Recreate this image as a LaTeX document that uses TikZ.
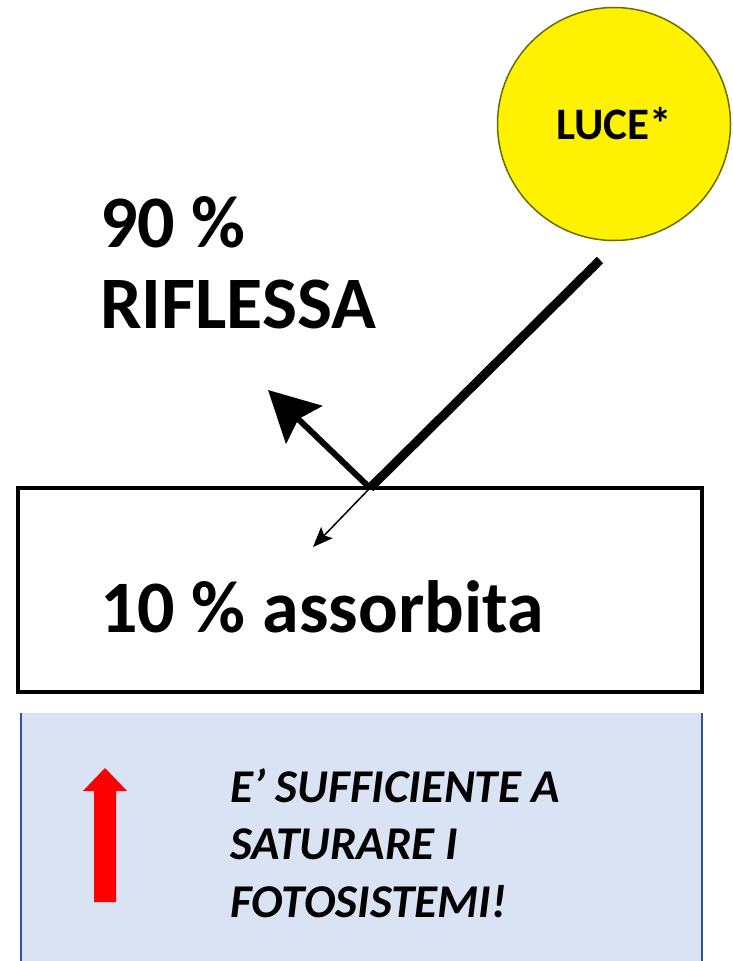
\documentclass[tikz,border=0pt]{standalone}
\usepackage{fontspec}
\setmainfont{Carlito}
\usetikzlibrary{arrows.meta,positioning}
\definecolor{celeste}{HTML}{DAE3F3}
\definecolor{bordoblu}{HTML}{2F5597}
\definecolor{orlosole}{HTML}{6B6B00}
\tikzstyle{sole} = [circle, draw=orlosole, line width=1.5pt, fill=yellow, minimum size=233pt,
    inner sep=0pt, font=\fontsize{45}{54}\selectfont\bfseries]
\tikzstyle{foglia} = [rectangle, draw, line width=4pt, minimum width=684pt, minimum height=204pt]
\tikzstyle{etichetta} = [inner sep=0pt, anchor=base west, align=left,
    font=\fontsize{74}{81}\selectfont\bfseries]
\tikzstyle{avviso} = [inner sep=0pt, anchor=base west, align=left,
    font=\fontsize{47}{57.5}\selectfont\bfseries\itshape]
\tikzstyle{raggio} = [draw, line width=9pt]
\tikzstyle{riflesso} = [draw, line width=6pt, -{Stealth[length=50pt,width=52pt,inset=8pt]}]
\tikzstyle{assorbito} = [draw, line width=1.5pt, -{Stealth[length=20pt,width=16pt,inset=4pt]}]
\begin{document}
\begin{tikzpicture}[x=1pt, y=-1pt]
	\useasboundingbox (0,0) rectangle (733,961);
	\node [sole] (luce) at (614,124) {LUCE*};
	\node [foglia] (foglia) at (360,590) {};
	\node [etichetta] (riflessa) at (100,328) {90 \%\\RIFLESSA};
	\node [etichetta] (assorbita) at (100,632) {10 \% assorbita};

	\coordinate (impatto) at (370,488);
	\coordinate (sorgente) at (600,260);
	\coordinate (fuori) at (268,390);
	\coordinate (dentro) at (313,547);
	\path [raggio] (sorgente) -- (impatto);
	\path [riflesso] (impatto) -- (fuori);
	\path [assorbito] (impatto) -- (dentro);

	% riquadro in basso
	\fill [celeste] (21,713) rectangle (702,961);
	\draw [bordoblu, line width=2pt] (21,713) -- (21,961) (702,713) -- (702,961);
	\fill [red] (94,902) -- (94,791) -- (83,791) -- (105,768) -- (127,791) -- (116,791) -- (116,902) -- cycle;
	\node [avviso] (testo) at (230,917) {E’ SUFFICIENTE A\\SATURARE I\\FOTOSISTEMI!};
\end{tikzpicture}
\end{document}
